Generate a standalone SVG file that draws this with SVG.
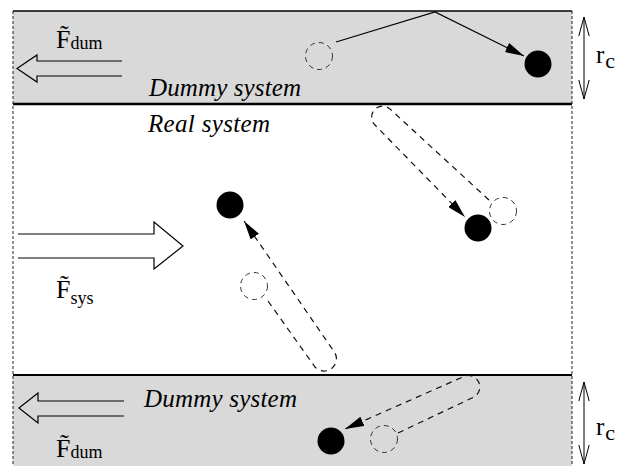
<svg xmlns="http://www.w3.org/2000/svg" width="617" height="466" viewBox="0 0 617 466">
<style>
.band{fill:#d9d9d9;stroke:none}
.edge{stroke:#000;fill:none}
.border{stroke:#222;stroke-width:1;stroke-dasharray:3 2;fill:none}
.hollow{fill:none;stroke:#000;stroke-width:1.2;stroke-linejoin:miter}
.ghost{fill:none;stroke:#333;stroke-width:1;stroke-dasharray:5 4}
.particle{fill:#000}
.traj{fill:none;stroke:#111;stroke-width:1.2;stroke-dasharray:6 5}
.solid{fill:none;stroke:#000;stroke-width:1.2}
.rc{fill:none;stroke:#000;stroke-width:1}
.lbl{font-family:"Liberation Serif","Times New Roman",serif;fill:#000}
.it{font-family:"Liberation Serif","Times New Roman",serif;font-style:italic;font-size:25px;fill:#000}
</style>
<defs>
<marker id="ah" markerWidth="19" markerHeight="10" refX="19" refY="5" orient="auto" markerUnits="userSpaceOnUse">
<path d="M0,0 L19,5 L0,10 z" fill="#000"/>
</marker>
<marker id="vee" markerWidth="20" markerHeight="12" refX="19" refY="6" orient="auto-start-reverse" markerUnits="userSpaceOnUse">
<path d="M0,0.8 L19,6 L0,11.2" fill="none" stroke="#000" stroke-width="1"/>
</marker>
</defs>

<g id="top-band">
<rect class="band" x="13" y="11" width="559" height="93"/>
<line class="edge" x1="13" y1="11" x2="572" y2="11" stroke-width="1.5"/>
<line class="edge" x1="13" y1="104" x2="572" y2="104" stroke-width="2.5"/>
<text class="it" x="149" y="96" textLength="152">Dummy system</text>
<path class="hollow" d="M122,61 H37 V55 L17,68.5 L37,82 V76 H122"/>
<text class="lbl" x="56" y="48" font-size="26">F&#771;<tspan font-size="18" dy="1">dum</tspan></text>
</g>

<g id="bottom-band">
<rect class="band" x="13" y="375" width="559" height="91"/>
<line class="edge" x1="13" y1="375" x2="572" y2="375" stroke-width="2"/>
<text class="it" x="144" y="407" textLength="153">Dummy system</text>
<path class="hollow" d="M124,401 H38 V393 L19,408 L38,423 V416 H124"/>
<text class="lbl" x="56" y="457" font-size="26">F&#771;<tspan font-size="18" dy="1">dum</tspan></text>
</g>

<g id="real-system">
<text class="it" x="148" y="132" textLength="122">Real system</text>
<path class="hollow" d="M18,234 H154 V222 L183,246 L154,269 V258 H18"/>
<text class="lbl" x="56" y="298" font-size="26">F&#771;<tspan font-size="18" dy="6">sys</tspan></text>
</g>

<g id="borders">
<line class="border" x1="13" y1="11" x2="13" y2="466"/>
<line class="border" x1="572" y1="11" x2="572" y2="466"/>
</g>

<g id="rc-top">
<line class="rc" x1="584" y1="17" x2="584" y2="99" marker-start="url(#vee)" marker-end="url(#vee)"/>
<text class="lbl" x="596" y="63" font-size="25">r<tspan font-size="22" dx="1" dy="5">c</tspan></text>
</g>
<g id="rc-bottom">
<line class="rc" x1="584" y1="382" x2="584" y2="464" marker-start="url(#vee)" marker-end="url(#vee)"/>
<text class="lbl" x="596" y="435" font-size="25">r<tspan font-size="22" dx="1" dy="5">c</tspan></text>
</g>

<g id="connectors">
<path class="solid" d="M336,42 L435,12 L524,56" marker-end="url(#ah)"/>
<path class="traj" d="M268,301 L315,367 A12.3,12.3 0 0 0 335,353 L244,221" marker-end="url(#ah)"/>
<path class="traj" d="M489,200 L390,109 A11,11 0 0 0 374,124 L465,217" marker-end="url(#ah)"/>
<path class="traj" d="M398,433 L474,397 A11.5,11.5 0 0 0 465,376 L345,429" marker-end="url(#ah)"/>
</g>

<g id="particle-1-old"><circle class="ghost" cx="319" cy="56" r="13.5"/></g>
<g id="particle-1-new"><circle class="particle" cx="538" cy="64" r="13.5"/></g>
<g id="particle-2-old"><circle class="ghost" cx="254" cy="286" r="13.5"/></g>
<g id="particle-2-new"><circle class="particle" cx="230" cy="205" r="13.5"/></g>
<g id="particle-3-old"><circle class="ghost" cx="503" cy="211" r="13.5"/></g>
<g id="particle-3-new"><circle class="particle" cx="478" cy="228" r="13.5"/></g>
<g id="particle-4-old"><circle class="ghost" cx="384" cy="439" r="13.5"/></g>
<g id="particle-4-new"><circle class="particle" cx="331" cy="441" r="13.5"/></g>
</svg>
